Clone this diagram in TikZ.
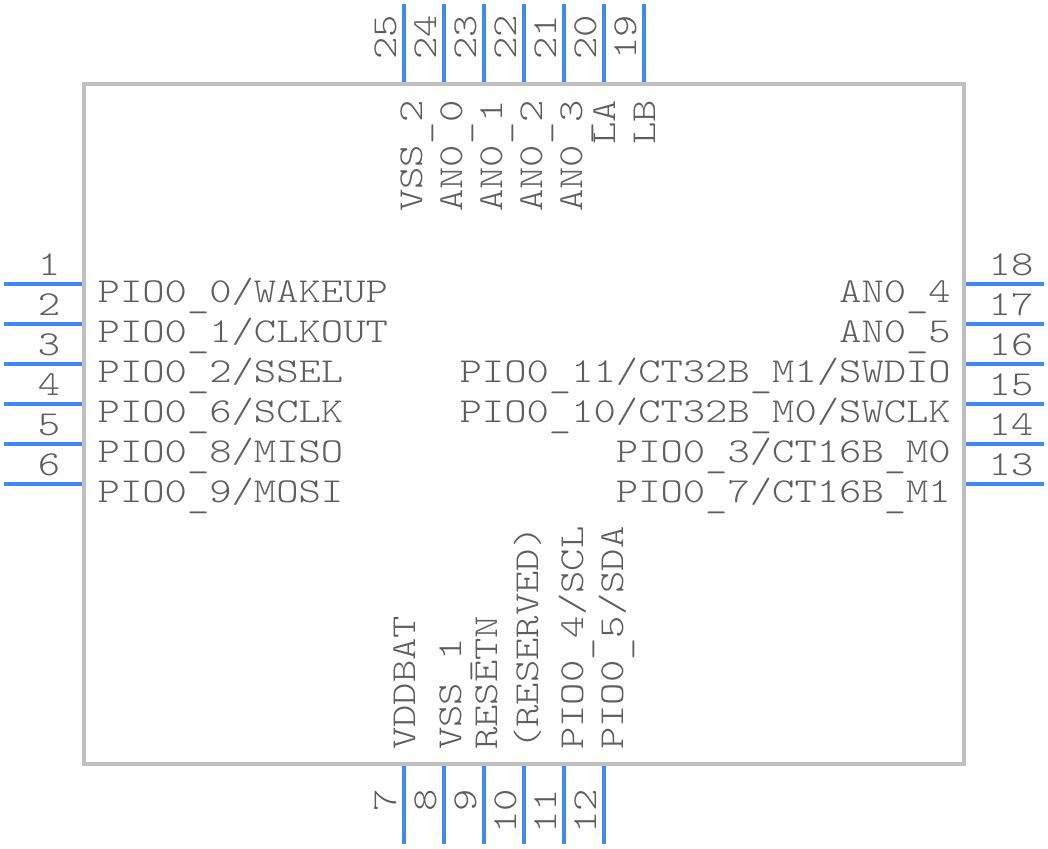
\documentclass[tikz,border=0pt]{standalone}
\usepackage{fontspec}
\usepackage{tikz}
\usepackage{xcolor}
\setmonofont[FakeStretch=1.215]{Latin Modern Mono Light}
\definecolor{chip-grey}{HTML}{BFBFBF}
\definecolor{pin-blue}{HTML}{4287F5}
\definecolor{text-grey}{HTML}{5E5E5E}
\newcommand{\pinbar}{\raisebox{-5pt}{\_}}
\tikzset{
    chip-box/.style = {draw=chip-grey, line width=4pt, rectangle, minimum width=880pt, minimum height=680pt},
    pin-line/.style = {draw=pin-blue, line width=4pt},
    pin-text/.style = {text=text-grey, inner sep=0pt, font=\ttfamily\fontsize{35}{35}\selectfont},
}

\begin{document}
\begin{tikzpicture}[x=1pt, y=-1pt]
\useasboundingbox (0,0) rectangle (1048,848);
\node [chip-box] (chip) at (524,424) {};

% left side
\foreach \pin/\pos/\name in {1/284/{PIO0\pinbar 0/WAKEUP}, 2/324/{PIO0\pinbar 1/CLKOUT}, 3/364/{PIO0\pinbar 2/SSEL}, 4/404/{PIO0\pinbar 6/SCLK}, 5/444/{PIO0\pinbar 8/MISO}, 6/484/{PIO0\pinbar 9/MOSI}} {
    \coordinate (end\pin) at (4,\pos);
    \draw [pin-line] (end\pin) -- (end\pin -| chip.west);
    \node [pin-text, anchor=base] (num\pin) at (49,\pos-9) {\pin};
    \node [pin-text, anchor=base west] (name\pin) at (97.5,\pos+18) {\name};
}

% right side
\foreach \pin/\pos/\name in {18/284/{AN0\pinbar 4}, 17/324/{AN0\pinbar 5}, 16/364/{PIO0\pinbar 11/CT32B\pinbar M1/SWDIO}, 15/404/{PIO0\pinbar 10/CT32B\pinbar M0/SWCLK}, 14/444/{PIO0\pinbar 3/CT16B\pinbar M0}, 13/484/{PIO0\pinbar 7/CT16B\pinbar M1}} {
    \coordinate (end\pin) at (1044,\pos);
    \draw [pin-line] (end\pin) -- (end\pin -| chip.east);
    \node [pin-text, anchor=base] (num\pin) at (1011,\pos-9) {\pin};
    \node [pin-text, anchor=base east] (name\pin) at (951,\pos+18) {\name};
}

% top side
\foreach \pin/\pos/\off/\name in {25/404/18/{VSS\pinbar 2}, 24/444/18/{AN0\pinbar 0}, 23/484/18/{AN0\pinbar 1}, 22/524/18/{AN0\pinbar 2}, 21/564/18/{AN0\pinbar 3}, 20/604/11/{LA}, 19/644/11/{LB}} {
    \coordinate (end\pin) at (\pos,4);
    \draw [pin-line] (end\pin) -- (end\pin |- chip.north);
    \node [pin-text, rotate=90, anchor=base west] (num\pin) at (\pos-8,60) {\pin};
    \node [pin-text, rotate=90, anchor=base east] (name\pin) at (\pos+\off,100) {\name};
}

% bottom side
\foreach \pin/\pos/\off/\name in {7/404/11/{VDDBAT}, 8/444/17/{VSS\pinbar 1}, 9/484/13/{RESETN}, 10/524/14/{(RESERVED)}, 11/564/19/{PIO0\pinbar 4/SCL}, 12/604/19/{PIO0\pinbar 5/SDA}} {
    \coordinate (end\pin) at (\pos,844);
    \draw [pin-line] (end\pin) -- (end\pin |- chip.south);
    \node [pin-text, rotate=90, anchor=base east] (num\pin) at (\pos-8,789) {\pin};
    \node [pin-text, rotate=90, anchor=base west] (name\pin) at (\pos+\off,750) {\name};
}
\end{tikzpicture}
\end{document}
